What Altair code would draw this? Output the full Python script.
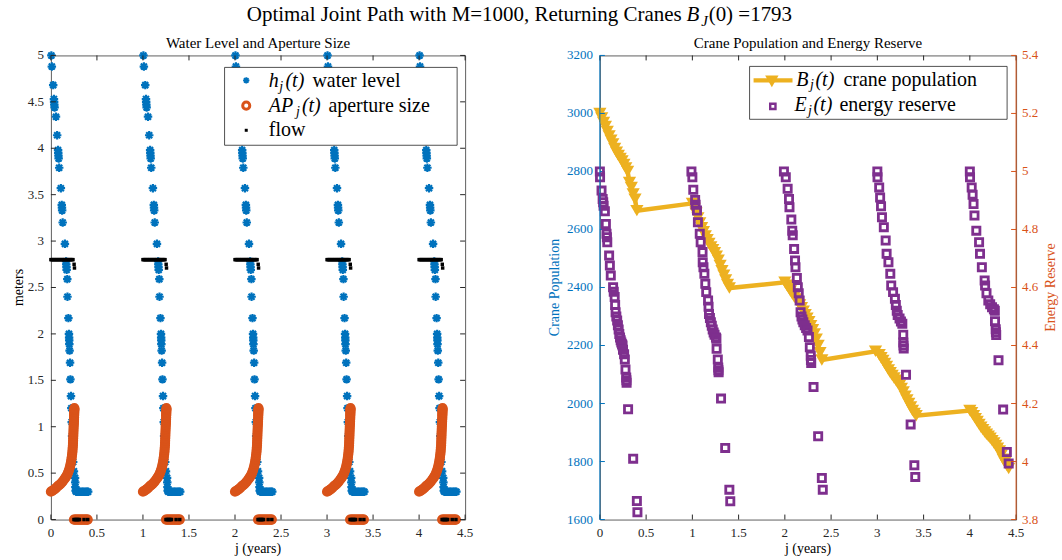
import altair as alt
import pandas as pd

SERIF = "Liberation Serif"
BLUE = "#0072BD"
ORANGE = "#D95319"
YELLOW = "#EDB120"
PURPLE = "#7E2F8E"
AX = "#262626"
BORDER = "#5f5f5f"
W_L, W_R, H = 415, 417, 465

# ---------------- data ----------------
YEARS = [0, 1, 2, 3, 4]

# water level h_j(t): offset inside each year (years) and level (m)
H_DX = [0.005, 0.010, 0.025, 0.033, 0.035, 0.037, 0.040, 0.055, 0.068, 0.078, 0.080, 0.082,
        0.084, 0.090, 0.108, 0.118, 0.120, 0.122, 0.128, 0.152, 0.165, 0.167, 0.169, 0.171,
        0.178, 0.180, 0.190, 0.196, 0.198, 0.199, 0.200, 0.203, 0.208, 0.212, 0.218, 0.222,
        0.226, 0.230, 0.236, 0.242, 0.250, 0.262, 0.264, 0.266, 0.268, 0.275, 0.290, 0.305,
        0.320, 0.335, 0.350, 0.365, 0.380, 0.395, 0.405]
H_Y = [5.00, 4.88, 4.68, 4.53, 4.50, 4.47, 4.44, 4.34, 4.14, 3.98, 3.95, 3.92,
       3.89, 3.79, 3.57, 3.39, 3.36, 3.33, 3.20, 2.97, 2.78, 2.75, 2.72, 2.69,
       2.59, 2.40, 2.17, 2.00, 1.96, 1.93, 1.89, 1.82, 1.69, 1.51, 1.33, 1.20,
       1.05, 0.90, 0.75, 0.62, 0.52, 0.45, 0.40, 0.35, 0.31, 0.30, 0.30, 0.30,
       0.30, 0.30, 0.30, 0.30, 0.30, 0.30, 0.30]

# aperture size AP_j(t): rising curve, then the closed period at zero
AP_DX = [0.000, 0.015, 0.030, 0.045, 0.060, 0.075, 0.090, 0.105, 0.120, 0.135, 0.150, 0.160,
         0.170, 0.180, 0.188, 0.196, 0.203, 0.209, 0.214, 0.219, 0.223, 0.227, 0.230, 0.233,
         0.235, 0.237, 0.239, 0.240, 0.241, 0.242, 0.243, 0.244, 0.245, 0.246, 0.247, 0.248,
         0.249, 0.250, 0.251, 0.252, 0.252, 0.253, 0.253, 0.254, 0.254, 0.255, 0.255,
         0.250, 0.262, 0.274, 0.286, 0.298, 0.310, 0.322, 0.334, 0.346, 0.358, 0.370, 0.382,
         0.394, 0.400]
AP_Y = [0.30, 0.31, 0.32, 0.33, 0.345, 0.36, 0.37, 0.385, 0.40, 0.42, 0.44, 0.455,
        0.47, 0.49, 0.51, 0.53, 0.555, 0.575, 0.60, 0.625, 0.65, 0.675, 0.70, 0.725,
        0.75, 0.775, 0.80, 0.825, 0.85, 0.875, 0.90, 0.925, 0.95, 0.975, 1.00, 1.02,
        1.04, 1.06, 1.08, 1.10, 1.12, 1.135, 1.15, 1.165, 1.18, 1.19, 1.20,
        0.0, 0.0, 0.0, 0.0, 0.0, 0.0, 0.0, 0.0, 0.0, 0.0, 0.0, 0.0,
        0.0, 0.0]

# flow
FLOW_DX = [0.000, 0.010, 0.020, 0.030, 0.040, 0.050, 0.060, 0.070, 0.080, 0.090, 0.100, 0.110,
           0.120, 0.130, 0.140, 0.150, 0.160, 0.170, 0.180, 0.190, 0.200, 0.210, 0.220, 0.230,
           0.240, 0.252, 0.256,
           0.250, 0.260, 0.270, 0.280, 0.290, 0.300, 0.310, 0.360, 0.400]
FLOW_Y = [2.80] * 25 + [2.75, 2.71] + [0.0] * 9

# crane population B_j(t) (left axis)
B_X = [0.00, 0.02, 0.04, 0.06, 0.08, 0.10, 0.12, 0.14, 0.16, 0.18, 0.20, 0.22, 0.24, 0.26, 0.28,
       0.30, 0.32, 0.34, 0.36, 0.38, 0.40,
       1.00, 1.02, 1.04, 1.06, 1.08, 1.10, 1.12, 1.14, 1.16, 1.18, 1.20, 1.22, 1.24, 1.26, 1.28,
       1.30, 1.32, 1.34, 1.36, 1.38, 1.40,
       2.00, 2.02, 2.04, 2.06, 2.08, 2.10, 2.12, 2.14, 2.16, 2.18, 2.20, 2.22, 2.24, 2.26, 2.28,
       2.30, 2.32, 2.34, 2.36, 2.38, 2.40,
       2.98, 3.02, 3.04, 3.06, 3.08, 3.10, 3.12, 3.14, 3.16, 3.18, 3.20, 3.22, 3.24, 3.26, 3.28,
       3.30, 3.32, 3.34, 3.36, 3.38, 3.40, 3.42,
       4.00, 4.02, 4.04, 4.06, 4.08, 4.10, 4.12, 4.14, 4.16, 4.18, 4.20, 4.22, 4.24, 4.26, 4.28,
       4.30, 4.32, 4.34, 4.36, 4.38, 4.40, 4.42]
B_VAL = [3000, 2984, 2969, 2955, 2938, 2922, 2908, 2895, 2879, 2866, 2855, 2845, 2836, 2824, 2812,
         2800, 2762, 2745, 2722, 2704, 2665,
         2690, 2672, 2656, 2640, 2622, 2606, 2592, 2578, 2565, 2552, 2540, 2530, 2520, 2508, 2494,
         2476, 2458, 2442, 2426, 2410, 2398,
         2418, 2408, 2398, 2388, 2378, 2368, 2360, 2350, 2340, 2330, 2318, 2306, 2294, 2282, 2268,
         2254, 2240, 2222, 2200, 2175, 2150,
         2180, 2168, 2158, 2148, 2138, 2128, 2116, 2106, 2097, 2088, 2080, 2071, 2062, 2052, 2040,
         2025, 2012, 2000, 1988, 1976, 1966, 1958,
         1976, 1968, 1958, 1948, 1938, 1928, 1918, 1910, 1902, 1894, 1887, 1880, 1872, 1864, 1855,
         1846, 1836, 1822, 1808, 1797, 1786, 1776]

# energy reserve E_j(t) (right axis)
E_X = [0.000, 0.002, 0.018, 0.030, 0.036, 0.040, 0.054, 0.065, 0.072, 0.076, 0.080, 0.100, 0.108,
       0.118, 0.143, 0.150, 0.160, 0.165, 0.170, 0.178, 0.187, 0.195, 0.203, 0.210, 0.218, 0.225,
       0.232, 0.240, 0.245, 0.250, 0.262, 0.270, 0.277, 0.285, 0.287, 0.289, 0.305, 0.360, 0.400,
       0.406,
       0.990, 1.000, 1.010, 1.030, 1.035, 1.050, 1.060, 1.080, 1.090, 1.110, 1.112, 1.120, 1.130,
       1.140, 1.150, 1.170, 1.175, 1.180, 1.190, 1.200, 1.210, 1.220, 1.230, 1.240, 1.255, 1.260,
       1.262, 1.275, 1.280, 1.282, 1.284, 1.310, 1.355, 1.400, 1.410,
       1.990, 2.010, 2.030, 2.045, 2.050, 2.070, 2.080, 2.085, 2.100, 2.110, 2.115, 2.130, 2.140,
       2.150, 2.160, 2.170, 2.180, 2.190, 2.200, 2.215, 2.230, 2.245, 2.260, 2.270, 2.280, 2.282,
       2.285, 2.310, 2.360, 2.400, 2.410,
       3.000, 3.002, 3.020, 3.030, 3.040, 3.050, 3.070, 3.090, 3.100, 3.120, 3.140, 3.150, 3.170,
       3.190, 3.200, 3.210, 3.220, 3.240, 3.255, 3.270, 3.280, 3.281, 3.283, 3.285, 3.310, 3.360,
       3.400, 3.410,
       4.000, 4.002, 4.020, 4.030, 4.040, 4.050, 4.070, 4.100, 4.110, 4.130, 4.160, 4.165, 4.180,
       4.200, 4.220, 4.240, 4.260, 4.270, 4.272, 4.280, 4.282, 4.285, 4.310, 4.360, 4.400, 4.420]
E_VAL = [5.000, 4.980, 4.934, 4.905, 4.894, 4.882, 4.863, 4.819, 4.785, 4.773, 4.756, 4.710, 4.676,
         4.641, 4.601, 4.585, 4.567, 4.540, 4.515, 4.500, 4.486, 4.470, 4.455, 4.440, 4.428, 4.418,
         4.410, 4.404, 4.400, 4.385, 4.370, 4.352, 4.317, 4.290, 4.280, 4.272, 4.180, 4.010, 3.864,
         3.825,
         5.000, 4.980, 4.937, 4.902, 4.885, 4.865, 4.825, 4.785, 4.756, 4.722, 4.687, 4.670, 4.647,
         4.613, 4.584, 4.555, 4.534, 4.509, 4.495, 4.480, 4.468, 4.455, 4.445, 4.437, 4.428, 4.423,
         4.389, 4.352, 4.324, 4.315, 4.308, 4.217, 4.047, 3.903, 3.863,
         5.000, 4.980, 4.940, 4.905, 4.877, 4.834, 4.796, 4.780, 4.733, 4.693, 4.670, 4.633, 4.601,
         4.580, 4.555, 4.515, 4.500, 4.490, 4.480, 4.470, 4.460, 4.452, 4.429, 4.394, 4.365, 4.350,
         4.340, 4.257, 4.087, 3.943, 3.903,
         5.000, 4.980, 4.945, 4.910, 4.880, 4.842, 4.808, 4.762, 4.716, 4.687, 4.647, 4.607, 4.584,
         4.561, 4.540, 4.520, 4.505, 4.493, 4.483, 4.475, 4.437, 4.410, 4.400, 4.390, 4.299, 4.128,
         3.987, 3.947,
         5.000, 4.980, 4.945, 4.920, 4.888, 4.848, 4.796, 4.756, 4.716, 4.670, 4.624, 4.607, 4.580,
         4.555, 4.542, 4.532, 4.525, 4.520, 4.484, 4.456, 4.446, 4.436, 4.349, 4.179, 4.033, 3.993]

X_TICKS = [0, 0.5, 1, 1.5, 2, 2.5, 3, 3.5, 4, 4.5]
H_TICKS = [0, 0.5, 1, 1.5, 2, 2.5, 3, 3.5, 4, 4.5, 5]
B_TICKS = [1600, 1800, 2000, 2200, 2400, 2600, 2800, 3000, 3200]
E_TICKS = [3.8, 4.0, 4.2, 4.4, 4.6, 4.8, 5.0, 5.2, 5.4]

ASTERISK = "M-1,0L1,0M0,-1L0,1M-0.71,-0.71L0.71,0.71M-0.71,0.71L0.71,-0.71"

# ---------------- tables ----------------
def by_year(dx, ys):
    return pd.DataFrame({"x": [yr + d for yr in YEARS for d in dx],
                         "y": [v for yr in YEARS for v in ys]})


def tick_table(vals):
    return pd.DataFrame({"t": vals, "lbl": [f"{v:g}" for v in vals]})


df_h = by_year(H_DX, H_Y)
df_ap = by_year(AP_DX, AP_Y)
df_flow = by_year(FLOW_DX, FLOW_Y)
df_b = pd.DataFrame({"x": B_X, "b": B_VAL, "i": list(range(len(B_X)))})
df_e = pd.DataFrame({"x": E_X, "e": E_VAL})
ONE = pd.DataFrame({"k": [0]})

xs = alt.Scale(domain=[0, 4.5], nice=False, zero=False)
ys_h = alt.Scale(domain=[0, 5], nice=False, zero=False)
ys_b = alt.Scale(domain=[1600, 3200], nice=False, zero=False)
ys_e = alt.Scale(domain=[3.8, 5.4], nice=False, zero=False)


def txt(text, x, y, size=20, italic=False, color="#000000", align="left",
        baseline="alphabetic", angle=None):
    kw = dict(text=text, font=SERIF, fontSize=size, color=color, align=align, baseline=baseline)
    if italic:
        kw["fontStyle"] = "italic"
    if angle is not None:
        kw["angle"] = angle
    return alt.Chart(ONE).mark_text(**kw).encode(x=alt.value(x), y=alt.value(y))


def x_guides(color):
    t = tick_table(X_TICKS)
    bot = alt.Chart(t).mark_rule(color=color, strokeWidth=1).encode(
        x=alt.X("t:Q", scale=xs, axis=None), y=alt.value(H), y2=alt.value(H - 5))
    top = alt.Chart(t).mark_rule(color=color, strokeWidth=1).encode(
        x=alt.X("t:Q", scale=xs, axis=None), y=alt.value(0), y2=alt.value(5))
    lab = alt.Chart(t).mark_text(font=SERIF, fontSize=13, color=color, align="center",
                                 baseline="middle").encode(
        x=alt.X("t:Q", scale=xs, axis=None), y=alt.value(H + 13), text="lbl:N")
    return [bot, top, lab]


def y_ticks(vals, scale, side, color, width):
    t = tick_table(vals)
    x1, x2 = (0, 5) if side == "left" else (width, width - 5)
    return alt.Chart(t).mark_rule(color=color, strokeWidth=1).encode(
        y=alt.Y("t:Q", scale=scale, axis=None), x=alt.value(x1), x2=alt.value(x2))


def y_labels(vals, scale, side, color, width):
    t = tick_table(vals)
    if side == "left":
        xpos, al = -7, "right"
    else:
        xpos, al = width + 6, "left"
    return alt.Chart(t).mark_text(font=SERIF, fontSize=13, color=color, align=al,
                                  baseline="middle").encode(
        y=alt.Y("t:Q", scale=scale, axis=None), x=alt.value(xpos), text="lbl:N")


def edge(xpos, color):
    return alt.Chart(ONE).mark_rule(color=color, strokeWidth=1).encode(
        x=alt.value(xpos), y=alt.value(0), y2=alt.value(H))


# ---------------- left panel ----------------
blue = alt.Chart(df_h).mark_point(shape=ASTERISK, filled=False, color=BLUE, size=72,
                                  strokeWidth=2.2, opacity=1).encode(
    x=alt.X("x:Q", scale=xs, axis=None), y=alt.Y("y:Q", scale=ys_h, axis=None))
orange = alt.Chart(df_ap).mark_point(shape="circle", filled=False, color=ORANGE, size=52,
                                     strokeWidth=3, opacity=1).encode(
    x=alt.X("x:Q", scale=xs, axis=None), y=alt.Y("y:Q", scale=ys_h, axis=None))
black = alt.Chart(df_flow).mark_point(shape="square", filled=True, color="black", size=12,
                                      opacity=1).encode(
    x=alt.X("x:Q", scale=xs, axis=None), y=alt.Y("y:Q", scale=ys_h, axis=None))

leg_l = [
    alt.Chart(ONE).mark_rect(fill="white", stroke=AX, strokeWidth=0.8).encode(
        x=alt.value(174), x2=alt.value(407), y=alt.value(12), y2=alt.value(90)),
    alt.Chart(ONE).mark_point(shape=ASTERISK, filled=False, color=BLUE, size=40,
                              strokeWidth=1.8, opacity=1).encode(x=alt.value(195.7), y=alt.value(25)),
    alt.Chart(ONE).mark_point(shape="circle", filled=False, color=ORANGE, size=50,
                              strokeWidth=3, opacity=1).encode(x=alt.value(195.7), y=alt.value(50.3)),
    alt.Chart(ONE).mark_point(shape="square", filled=True, color="black", size=9,
                              opacity=1).encode(x=alt.value(195.7), y=alt.value(75)),
    txt("h", 218.3, 31.7, italic=True),
    txt("j", 228.8, 35.5, size=14, italic=True),
    txt("(t)", 235, 31.7, italic=True),
    txt("water level", 262, 31.7),
    txt("AP", 218.3, 56.5, italic=True),
    txt("j", 245.5, 60.3, size=14, italic=True),
    txt("(t)", 251.5, 56.5, italic=True),
    txt("aperture size", 278, 56.5),
    txt("flow", 218.3, 81),
]

titles_l = [
    txt("Optimal Joint Path with M=1000, Returning Cranes", 632, -34, size=21, align="right"),
    txt("B", 636.7, -34, size=21, italic=True),
    txt("J", 651.5, -29.5, size=15, italic=True),
    txt("(0) =1793", 659, -34, size=21),
    txt("Water Level and Aperture Size", W_L / 2, -7, size=15, align="center"),
    txt("meters", -32, H / 2, size=14, align="center", baseline="middle", angle=270),
    txt("j (years)", W_L / 2, 495, size=14, align="center", baseline="middle"),
]

left = alt.layer(
    blue, orange, black,
    *x_guides(AX),
    y_ticks(H_TICKS, ys_h, "left", AX, W_L),
    y_ticks(H_TICKS, ys_h, "right", AX, W_L),
    y_labels(H_TICKS, ys_h, "left", AX, W_L),
    *leg_l, *titles_l,
).properties(width=W_L, height=H)

# ---------------- right panel ----------------
b_line = alt.Chart(df_b).mark_line(color=YELLOW, strokeWidth=4.5).encode(
    x=alt.X("x:Q", scale=xs, axis=None),
    y=alt.Y("b:Q", scale=ys_b, axis=None),
    order="i:Q")
b_pts = alt.Chart(df_b).mark_point(shape="triangle-down", filled=True, color=YELLOW, size=175,
                                   opacity=1).encode(
    x=alt.X("x:Q", scale=xs, axis=None), y=alt.Y("b:Q", scale=ys_b, axis=None))
left_group = alt.layer(b_line, b_pts, *x_guides(AX),
                       y_ticks(B_TICKS, ys_b, "left", BLUE, W_R),
                       y_labels(B_TICKS, ys_b, "left", BLUE, W_R))

e_pts = alt.Chart(df_e).mark_point(shape="square", filled=False, color=PURPLE, size=52,
                                   strokeWidth=2.8, opacity=1).encode(
    x=alt.X("x:Q", scale=xs, axis=None), y=alt.Y("e:Q", scale=ys_e, axis=None))
right_group = alt.layer(e_pts, y_ticks(E_TICKS, ys_e, "right", ORANGE, W_R),
                        y_labels(E_TICKS, ys_e, "right", ORANGE, W_R))

leg_r = [
    edge(0, BLUE),
    edge(W_R, ORANGE),
    alt.Chart(ONE).mark_rect(fill="white", stroke=AX, strokeWidth=0.8).encode(
        x=alt.value(150), x2=alt.value(408), y=alt.value(11), y2=alt.value(64)),
    alt.Chart(ONE).mark_rule(color=YELLOW, strokeWidth=4.5).encode(
        x=alt.value(154), x2=alt.value(193), y=alt.value(25)),
    alt.Chart(ONE).mark_point(shape="triangle-down", filled=True, color=YELLOW, size=180,
                              opacity=1).encode(x=alt.value(172.3), y=alt.value(26)),
    alt.Chart(ONE).mark_point(shape="square", filled=False, color=PURPLE, size=28,
                              strokeWidth=2.4, opacity=1).encode(x=alt.value(173.3), y=alt.value(51)),
    txt("B", 196.7, 30.3, italic=True),
    txt("j", 210.5, 34.1, size=14, italic=True),
    txt("(t)", 216, 30.3, italic=True),
    txt("crane population", 244, 30.3),
    txt("E", 195, 56, italic=True),
    txt("j", 208.5, 59.8, size=14, italic=True),
    txt("(t)", 214, 56, italic=True),
    txt("energy reserve", 240, 56),
    txt("Crane Population and Energy Reserve", W_R / 2, -7, size=15, align="center"),
    txt("Crane Population", -45, H / 2, size=14, color=BLUE, align="center",
        baseline="middle", angle=270),
    txt("Energy Reserve", 452, H / 2, size=14, color=ORANGE, align="center",
        baseline="middle", angle=270),
    txt("j (years)", W_R / 2, 495, size=14, align="center", baseline="middle"),
]
text_group = alt.layer(*leg_r)

right = alt.layer(left_group, right_group, text_group).resolve_scale(
    y="independent").properties(width=W_R, height=H)

chart = alt.hconcat(left, right, spacing=135, bounds="flush").configure_view(
    stroke=BORDER, strokeWidth=1).properties(
    padding={"left": 11, "top": 3, "right": 3, "bottom": 4})

chart.save("out.html", embed_options={"renderer": "svg", "actions": False})
